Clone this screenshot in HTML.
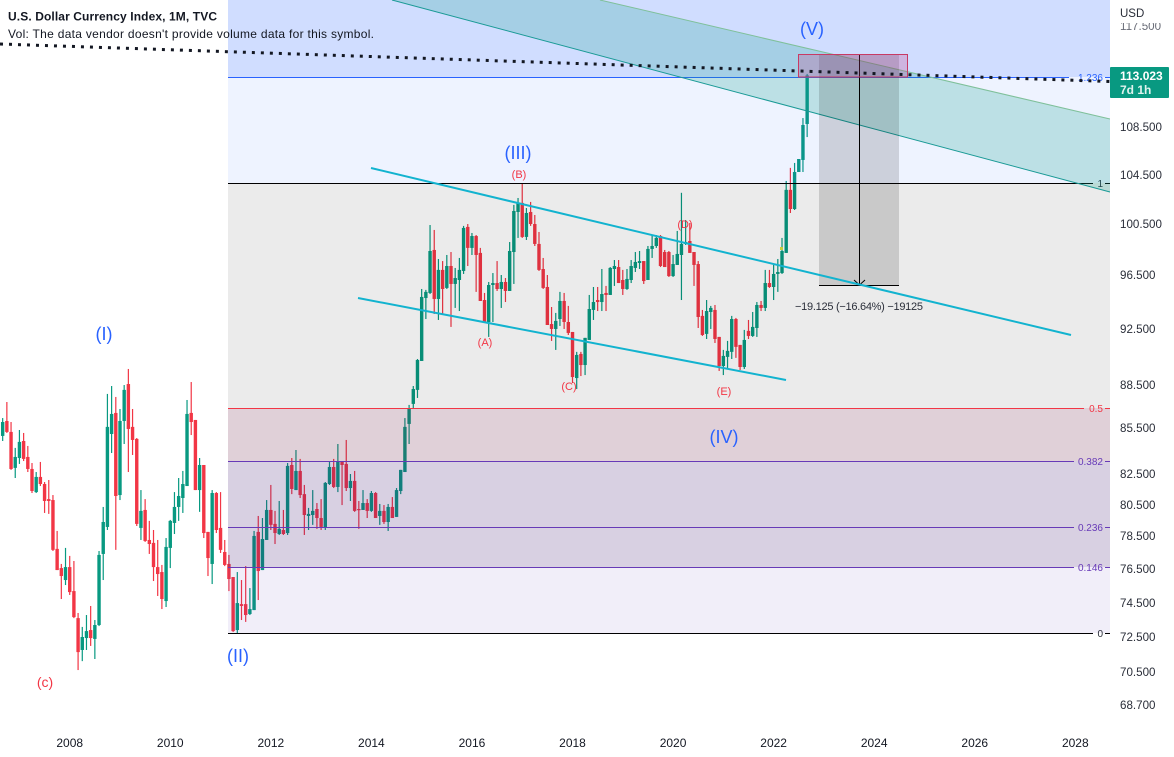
<!DOCTYPE html>
<html lang="en">
<head>
<meta charset="utf-8">
<title>U.S. Dollar Currency Index, 1M, TVC</title>
<style>
html,body{margin:0;padding:0;background:#fff;}
svg{display:block;font-family:"Liberation Sans",sans-serif;}
</style>
</head>
<body>
<svg id="chart" width="1174" height="757" viewBox="0 0 1174 757" xmlns="http://www.w3.org/2000/svg">
  <defs>
    <clipPath id="pane-clip"><rect x="0" y="0" width="1110" height="757"/></clipPath>
    <clipPath id="top-tick-clip"><rect x="1110" y="23" width="64" height="20"/></clipPath>
  </defs>
  <g id="candles"></g>
  <rect x="780" y="247" width="3" height="3" fill="#d8e040"/>
  <g id="fib-zones"></g>
  <g id="fib-lines"></g>

  <polygon points="392,0 600,0 1110,119 1110,192" fill="rgba(15,160,137,0.22)"/>
  <line x1="600" y1="0" x2="1110" y2="119" stroke="#7fc09a" stroke-width="1"/>
  <line x1="392" y1="0" x2="1110" y2="192" stroke="#1a9a96" stroke-width="1"/>

  <rect x="819" y="54" width="80" height="231" fill="rgba(0,0,0,0.14)"/>
  <line x1="819" y1="54.5" x2="899" y2="54.5" stroke="#000" stroke-width="1"/>
  <line x1="819" y1="285.5" x2="899" y2="285.5" stroke="#000" stroke-width="1"/>
  <line x1="859.5" y1="54" x2="859.5" y2="285" stroke="#000" stroke-width="1"/>
  <polyline points="854,280 859.5,285 865,280" fill="none" stroke="#000" stroke-width="1"/>
  <text x="795" y="310" font-size="11" fill="#2a2e39" textLength="128" lengthAdjust="spacing">−19.125 (−16.64%) −19125</text>

  <rect x="798.5" y="54.5" width="109" height="22.5" fill="rgba(200,60,130,0.25)" stroke="#c83a64" stroke-width="1"/>

  <line x1="371" y1="168" x2="1071" y2="335" stroke="#12b3cf" stroke-width="2"/>
  <line x1="358" y1="298" x2="786" y2="380" stroke="#12b3cf" stroke-width="2"/>
  <line x1="0" y1="44" x2="1110" y2="81.5" stroke="#131722" stroke-width="3" stroke-dasharray="3 6"/>

  <g font-size="18" fill="#2962ff" text-anchor="middle">
    <text x="104" y="340">(I)</text>
    <text x="238" y="662">(II)</text>
    <text x="518" y="159">(III)</text>
    <text x="724" y="443">(IV)</text>
    <text x="812" y="35">(V)</text>
  </g>
  <g font-size="11" fill="#f23645" text-anchor="middle">
    <text x="45" y="687" font-size="14">(c)</text>
    <text x="485" y="346">(A)</text>
    <text x="519" y="178">(B)</text>
    <text x="569" y="390">(C)</text>
    <text x="685" y="228">(D)</text>
    <text x="724" y="395">(E)</text>
  </g>

  <text x="8" y="20.5" font-size="12" font-weight="bold" fill="#131722" textLength="209" lengthAdjust="spacing">U.S. Dollar Currency Index, 1M, TVC</text>
  <text x="8" y="38" font-size="12" fill="#131722" textLength="366" lengthAdjust="spacing">Vol: The data vendor doesn't provide volume data for this symbol.</text>

  <rect x="1110" y="0" width="64" height="757" fill="#ffffff"/>
  <text x="1120" y="17" font-size="11.5" fill="#2a2e39">USD</text>
  <g id="price-ticks"></g>
  <g id="time-ticks"></g>

  <rect x="1110" y="67" width="59" height="31" rx="1" fill="#089981"/>
  <text id="last-price" x="1120" y="80" font-size="12" font-weight="bold" fill="#ffffff">113.023</text>
  <text x="1120" y="94" font-size="12" font-weight="bold" fill="#dff3ee">7d 1h</text>
</svg>

<script>
var tickYears = [2008, 2010, 2012, 2014, 2016, 2018, 2020, 2022, 2024, 2026, 2028];
var priceTicks = [117.5, 108.5, 104.5, 100.5, 96.5, 92.5, 88.5, 85.5, 82.5, 80.5, 78.5, 76.5, 74.5, 72.5, 70.5, 68.7];
var fibRatios = [1.236, 1, 0.5, 0.382, 0.236, 0.146, 0];
var fibLabels = ['1.236', '1', '0.5', '0.382', '0.236', '0.146', '0'];
var fibAnchorLow = 72.73;
var fibAnchorHigh = 103.81;
var firstBarYear = 2006;
var firstBarMonth = 8;

var opens = [
84.99,86.00,85.26,82.87,83.52,84.65,83.59,82.80,81.30,82.28,
81.82,80.85,80.79,77.73,76.56,75.84,76.62,75.18,73.59,71.76,
72.44,72.90,72.39,73.19,77.42,79.09,85.12,86.55,81.11,86.00,
88.55,85.60,84.79,79.03,80.16,78.28,78.10,76.62,76.32,74.59,
77.79,79.34,80.35,80.92,81.69,86.55,86.07,81.43,83.06,78.78,
76.81,81.24,79.03,77.54,76.81,76.02,72.90,74.41,74.41,73.83,
74.06,78.78,76.44,78.28,80.16,79.28,78.65,78.90,78.71,83.06,
81.43,82.67,81.17,79.78,79.84,80.22,79.65,79.03,81.82,82.93,
81.63,83.26,83.13,81.56,82.02,80.22,80.16,80.60,80.10,81.24,
79.78,80.10,79.40,80.35,79.72,81.37,82.60,85.80,87.17,88.14,
90.18,94.78,95.16,98.45,94.71,96.91,95.54,97.21,95.84,96.14,
96.83,100.26,98.61,99.54,98.22,94.63,93.00,95.76,95.91,95.46,
95.99,95.31,98.29,101.45,102.18,99.47,101.45,100.49,98.92,96.98,
95.61,92.85,92.49,93.22,94.56,93.00,92.27,88.97,90.68,89.89,
91.69,93.89,94.63,94.48,95.16,95.01,96.98,97.13,96.14,95.46,
96.14,97.06,97.44,97.59,96.14,98.53,98.76,99.54,98.29,98.29,
96.44,97.29,98.06,98.92,99.15,98.29,97.36,93.45,92.13,93.74,
93.89,91.91,89.82,90.47,90.83,93.22,91.33,89.75,92.35,91.98,
92.56,94.26,94.04,95.91,95.61,96.60,96.67,98.22,103.24,101.69,
104.71,105.71,108.76];

var highs = [
86.20,87.30,85.93,84.19,85.39,85.19,84.32,83.19,82.60,83.26,
81.95,82.08,81.11,78.84,76.81,77.79,77.30,76.99,73.89,73.08,
73.77,74.30,73.48,77.60,80.35,87.86,88.41,87.65,86.82,88.48,
89.61,86.82,84.85,81.43,80.85,79.47,78.90,78.28,76.75,78.40,
79.53,81.30,82.21,82.67,87.44,88.69,86.07,83.52,83.06,78.78,
81.43,81.30,81.30,78.28,77.36,76.02,76.32,75.84,76.68,75.36,
78.84,79.78,79.65,80.79,81.76,80.10,80.73,80.16,83.19,83.52,
84.05,83.46,81.76,80.29,81.43,80.60,80.85,81.95,83.26,83.46,
84.45,83.32,84.72,82.47,82.67,80.73,81.43,80.85,81.37,81.30,
80.54,80.47,80.54,80.98,81.56,82.74,86.20,87.10,88.41,90.32,
95.46,95.39,100.41,100.02,97.75,97.59,98.06,98.29,97.06,97.83,
100.34,100.49,99.78,99.62,98.61,95.16,95.99,96.67,97.59,96.52,
96.29,99.07,102.02,102.58,103.72,101.77,102.26,101.21,99.86,97.83,
96.52,94.11,93.67,95.24,95.16,94.19,92.27,90.83,90.83,91.84,
95.01,95.61,95.61,96.98,95.69,97.13,97.67,97.67,96.91,96.98,
97.67,98.29,98.37,97.59,98.76,99.62,99.62,99.62,98.45,98.37,
98.06,99.94,103.00,100.81,100.57,98.29,97.59,93.89,94.63,94.19,
94.26,91.91,90.97,91.62,93.45,93.30,91.33,92.42,93.15,93.74,
94.48,94.56,96.91,96.91,97.29,97.75,99.39,103.97,105.05,105.46,
105.79,109.27,113.15];

var lows = [
84.65,85.19,82.74,82.21,83.13,83.32,82.60,81.24,81.24,81.69,
79.97,79.91,77.60,76.44,74.71,75.54,74.95,73.59,70.63,71.13,
71.76,71.99,71.25,73.13,75.84,78.90,83.85,77.67,80.79,84.45,
82.60,83.72,79.15,78.28,78.16,77.42,75.78,74.89,74.12,74.24,
76.56,78.65,79.47,79.97,81.69,85.05,81.43,80.04,78.40,76.08,
75.60,78.71,77.48,76.68,75.18,72.79,72.73,73.48,73.37,73.77,
74.06,74.65,76.44,78.28,78.90,78.03,78.59,78.59,78.59,81.17,
81.43,80.92,78.59,78.90,79.22,78.97,78.90,78.90,81.76,81.56,
81.30,80.47,81.37,80.73,80.04,78.97,80.16,79.65,80.04,79.65,
79.22,79.28,78.84,79.65,79.72,81.17,82.60,84.45,86.89,87.58,
90.18,93.22,95.08,93.59,93.15,93.59,95.46,92.64,94.04,93.81,
96.60,97.21,98.06,95.24,94.56,93.00,91.91,93.00,95.31,94.04,
94.48,95.31,95.84,99.39,99.39,99.23,100.34,98.76,96.83,95.46,
92.78,91.62,90.97,92.71,92.49,92.05,88.62,88.20,89.11,89.18,
91.69,93.15,93.81,93.81,93.81,95.01,95.69,95.91,95.01,95.39,
95.91,96.75,96.98,95.84,96.14,97.83,98.61,97.13,97.13,96.37,
96.37,97.29,94.63,98.84,98.22,95.69,92.56,91.98,91.76,92.49,
91.47,89.47,89.18,89.68,90.32,90.40,89.54,89.61,91.76,91.91,
91.91,93.81,93.81,95.54,94.63,95.24,96.60,98.22,101.37,101.61,
104.71,104.71,107.64];

var closes = [
85.93,85.26,82.80,83.59,84.59,83.46,82.80,81.37,82.28,81.82,
80.73,80.73,77.67,76.44,76.08,76.62,75.12,73.65,71.64,72.50,
72.84,72.44,73.19,77.36,79.40,85.60,86.48,81.05,86.00,88.14,
85.46,84.72,79.28,80.10,78.22,78.03,76.62,76.20,74.71,77.85,
79.47,80.35,81.05,81.82,86.48,85.93,81.43,83.06,78.71,77.17,
81.24,78.90,77.67,76.75,75.90,72.84,74.47,74.30,73.77,74.12,
78.53,76.38,78.34,80.16,79.22,78.71,78.97,78.65,83.00,81.50,
82.67,81.11,79.84,79.91,80.10,79.65,79.09,81.89,82.93,81.63,
83.32,83.06,81.56,82.02,80.10,80.16,80.60,80.10,81.24,79.65,
80.10,79.40,80.35,79.65,81.43,82.74,85.60,86.82,88.20,90.25,
94.86,95.24,98.37,94.71,96.91,95.46,97.21,95.84,96.29,96.91,
100.18,98.61,99.54,98.06,94.56,93.00,95.76,95.91,95.46,95.99,
95.31,98.37,101.53,102.18,99.47,101.37,100.49,98.92,96.91,95.54,
92.78,92.49,93.08,94.56,93.00,92.20,89.04,90.61,89.89,91.84,
93.96,94.48,94.48,95.08,95.01,97.06,97.21,95.91,95.46,96.22,
97.21,97.52,97.59,96.06,98.53,98.76,99.39,97.21,97.13,96.44,
97.36,98.14,98.92,99.07,98.22,97.29,93.37,92.05,93.81,94.04,
91.76,89.82,90.54,90.90,93.22,91.19,89.75,91.69,91.98,92.64,
94.26,94.04,95.91,95.61,96.60,96.75,98.37,103.24,101.69,104.71,
105.79,108.67,113.02];

var NS = 'http://www.w3.org/2000/svg';

function xScale(monthsFromStart) {
  return 2.67 + monthsFromStart * 4.19;
}
function xOfYear(year) {
  return xScale((year - firstBarYear) * 12 - firstBarMonth);
}
function yScale(price) {
  return 127 - 1265 * Math.log(price / 108.5);
}
function yOfFib(ratio) {
  var lo = Math.log(fibAnchorLow);
  var hi = Math.log(fibAnchorHigh);
  return Math.round(yScale(Math.exp(lo + ratio * (hi - lo))));
}
function make(tag, attrs, parent) {
  var el = document.createElementNS(NS, tag);
  for (var k in attrs) { el.setAttribute(k, attrs[k]); }
  parent.appendChild(el);
  return el;
}

/* candles */
var candleLayer = document.getElementById('candles');
for (var i = 0; i < opens.length; i++) {
  var xc = xScale(i);
  var up = closes[i] >= opens[i];
  var colour = up ? '#089981' : '#f23645';
  var g = make('g', {fill: colour}, candleLayer);
  
  
  var yHigh = yScale(highs[i]);
  var yLow = yScale(lows[i]);
  var yTop = yScale(Math.max(opens[i], closes[i]));
  var yBot = yScale(Math.min(opens[i], closes[i]));
  var wick = make('rect', {x: xc - 0.6, y: yHigh, width: 1.2, height: Math.max(1, yLow - yHigh)}, g);
  
  
  var body = make('rect', {x: xc - 1.7, y: yTop, width: 3.4, height: Math.max(1.2, yBot - yTop)}, g);
  
  
}

/* fibonacci zones and levels */
var fibZoneFills = ['rgba(41,98,255,0.22)', 'rgba(41,98,255,0.08)', 'rgba(0,0,0,0.08)', 'rgba(100,20,60,0.2)', 'rgba(60,20,110,0.2)', 'rgba(60,20,110,0.2)', 'rgba(80,42,180,0.08)'];
var fibLineColours = ['#2962ff', '#000000', '#f23645', '#673ab7', '#673ab7', '#673ab7', '#000000'];
var fibLabelColours = ['#2962ff', '#2a2e39', '#f23645', '#673ab7', '#673ab7', '#673ab7', '#2a2e39'];
var fibLabelWidths = [31, 7, 16, 26, 26, 26, 7];
var zoneLayer = document.getElementById('fib-zones');
var lineLayer = document.getElementById('fib-lines');
for (var f = 0; f < fibRatios.length; f++) {
  var yLevel = yOfFib(fibRatios[f]);
  var yPrev = f === 0 ? 0 : yOfFib(fibRatios[f - 1]);
  var zone = make('rect', {x: 228, y: yPrev, width: 882, height: yLevel - yPrev, fill: fibZoneFills[f]}, zoneLayer);
  
  
  var lineEnd = 1103 - fibLabelWidths[f] - 3;
  var line = make('rect', {x: 228, y: yLevel, width: lineEnd - 228, height: 1, fill: fibLineColours[f], 'shape-rendering': 'crispEdges'}, lineLayer);
  
  
  var stub = make('rect', {x: 1105, y: yLevel, width: 5, height: 1, fill: fibLineColours[f], 'shape-rendering': 'crispEdges'}, lineLayer);
  
  
  var label = make('text', {x: 1103, y: yLevel + 4, 'font-size': 10, 'text-anchor': 'end', fill: fibLabelColours[f]}, lineLayer);
  
  
  label.textContent = fibLabels[f];
}

/* price axis */
var priceLayer = document.getElementById('price-ticks');
for (var p = 0; p < priceTicks.length; p++) {
  var tick = make('text', {x: 1120, y: Math.round(yScale(priceTicks[p])) + 4, 'font-size': 11.6, fill: '#2a2e39'}, priceLayer);
  
  
  if (p === 0) {
    tick.setAttribute('clip-path', 'url(#top-tick-clip)');
    tick.setAttribute('fill', '#6a6d78');
  }
  tick.textContent = priceTicks[p].toFixed(3);
}

/* time axis */
var timeLayer = document.getElementById('time-ticks');
for (var t = 0; t < tickYears.length; t++) {
  var yr = make('text', {x: xOfYear(tickYears[t]), y: 747, 'font-size': 12, 'text-anchor': 'middle', fill: '#131722'}, timeLayer);
  
  
  yr.textContent = String(tickYears[t]);
}
</script>
</body>
</html>
